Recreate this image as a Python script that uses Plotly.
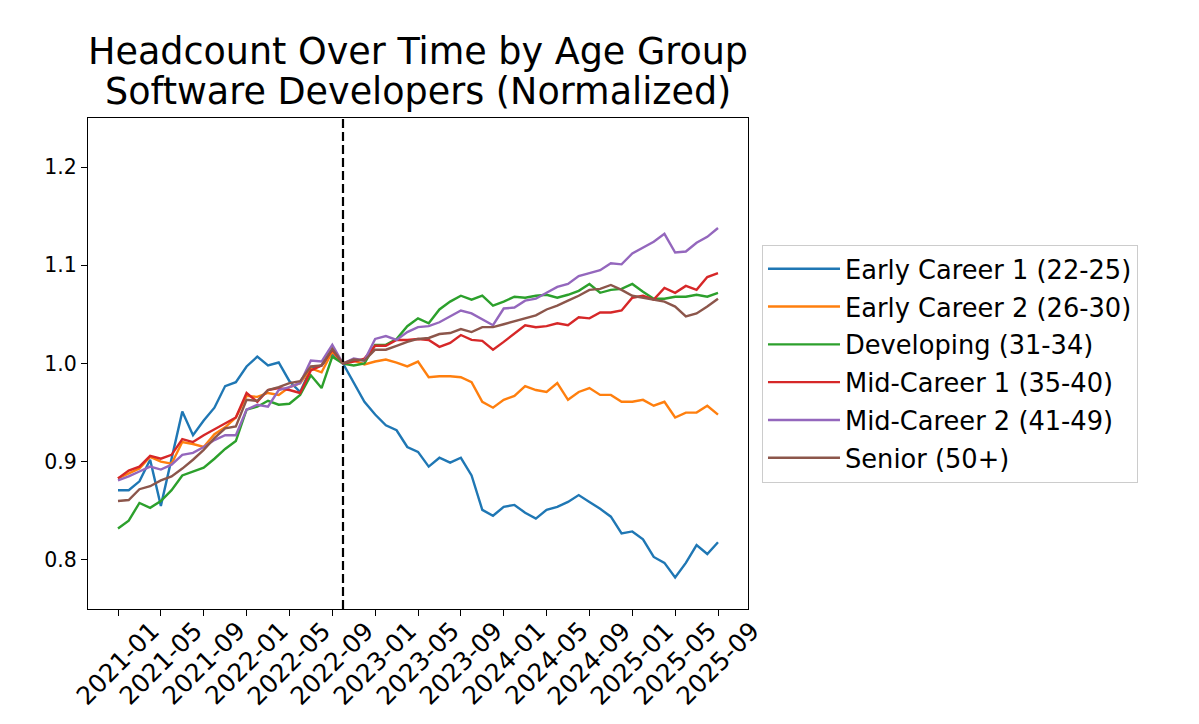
import plotly.graph_objects as go

# monthly labels 2021-01 .. 2025-09
months = [f"{y}-{m:02d}" for y in range(2021, 2026) for m in range(1, 13)][:57]
tick_labels = months[::4]
baseline_month = "2022-10"
title_lines = ["Headcount Over Time by Age Group", "Software Developers (Normalized)"]

early_career_1 = [0.871, 0.871, 0.880, 0.902, 0.855, 0.903, 0.951, 0.927, 0.942, 0.955,
                  0.977, 0.981, 0.997, 1.007, 0.998, 1.001, 0.982, 0.971, 0.995, 0.998,
                  1.010, 1.000, 0.980, 0.961, 0.948, 0.937, 0.932, 0.915, 0.910, 0.895,
                  0.904, 0.899, 0.904, 0.886, 0.851, 0.845, 0.854, 0.856, 0.848, 0.842,
                  0.851, 0.854, 0.859, 0.866, 0.859, 0.852, 0.844, 0.827, 0.829, 0.821,
                  0.803, 0.797, 0.782, 0.797, 0.815, 0.806, 0.818]
early_career_2 = [0.883, 0.888, 0.893, 0.905, 0.900, 0.898, 0.920, 0.918, 0.915, 0.928,
                  0.935, 0.945, 0.967, 0.966, 0.970, 0.968, 0.976, 0.980, 0.995, 0.991,
                  1.012, 1.000, 1.003, 0.999, 1.002, 1.004, 1.001, 0.997, 1.002, 0.986,
                  0.987, 0.987, 0.986, 0.981, 0.961, 0.955, 0.963, 0.967, 0.977, 0.973,
                  0.971, 0.980, 0.963, 0.971, 0.975, 0.968, 0.968, 0.961, 0.961, 0.963,
                  0.957, 0.961, 0.945, 0.950, 0.950, 0.957, 0.948]
developing = [0.832, 0.840, 0.858, 0.853, 0.860, 0.871, 0.886, 0.890, 0.894, 0.903,
              0.913, 0.921, 0.953, 0.956, 0.962, 0.958, 0.959, 0.968, 0.988, 0.975,
              1.007, 1.000, 0.998, 1.000, 1.019, 1.019, 1.025, 1.038, 1.046, 1.041,
              1.055, 1.063, 1.069, 1.065, 1.069, 1.059, 1.063, 1.068, 1.067, 1.069,
              1.070, 1.067, 1.070, 1.074, 1.081, 1.072, 1.075, 1.076, 1.081, 1.073,
              1.066, 1.066, 1.068, 1.068, 1.070, 1.068, 1.072]
mid_career_1 = [0.883, 0.891, 0.895, 0.906, 0.903, 0.907, 0.923, 0.920, 0.927, 0.933,
                0.939, 0.945, 0.970, 0.961, 0.973, 0.975, 0.973, 0.970, 0.993, 0.998,
                1.014, 1.000, 1.002, 1.005, 1.018, 1.018, 1.024, 1.024, 1.025, 1.024,
                1.017, 1.021, 1.029, 1.024, 1.023, 1.014, 1.022, 1.031, 1.039, 1.037,
                1.038, 1.041, 1.039, 1.047, 1.046, 1.052, 1.052, 1.054, 1.067, 1.069,
                1.065, 1.077, 1.072, 1.079, 1.075, 1.088, 1.092]
mid_career_2 = [0.881, 0.885, 0.890, 0.895, 0.892, 0.897, 0.907, 0.909, 0.915, 0.922,
                0.927, 0.927, 0.953, 0.958, 0.956, 0.973, 0.976, 0.980, 1.003, 1.002,
                1.019, 1.000, 1.005, 1.003, 1.025, 1.028, 1.024, 1.032, 1.037, 1.038,
                1.042, 1.048, 1.054, 1.051, 1.045, 1.039, 1.056, 1.057, 1.064, 1.066,
                1.072, 1.078, 1.081, 1.089, 1.092, 1.095, 1.102, 1.101, 1.112, 1.118,
                1.124, 1.132, 1.113, 1.114, 1.123, 1.129, 1.138]
senior = [0.860, 0.861, 0.872, 0.875, 0.881, 0.885, 0.893, 0.902, 0.912, 0.924,
          0.934, 0.936, 0.963, 0.962, 0.973, 0.976, 0.980, 0.982, 0.997, 0.998,
          1.015, 1.000, 1.004, 1.003, 1.014, 1.014, 1.018, 1.022, 1.025, 1.026,
          1.030, 1.031, 1.035, 1.032, 1.037, 1.037, 1.040, 1.043, 1.046, 1.049,
          1.055, 1.059, 1.064, 1.069, 1.075, 1.076, 1.080, 1.075, 1.069, 1.067,
          1.065, 1.063, 1.058, 1.048, 1.051, 1.058, 1.066]

series = [
    ("Early Career 1 (22-25)", early_career_1, "#1f77b4"),
    ("Early Career 2 (26-30)", early_career_2, "#ff7f0e"),
    ("Developing (31-34)", developing, "#2ca02c"),
    ("Mid-Career 1 (35-40)", mid_career_1, "#d62728"),
    ("Mid-Career 2 (41-49)", mid_career_2, "#9467bd"),
    ("Senior (50+)", senior, "#8c564b"),
]

FONT = "DejaVu Sans"

fig = go.Figure()
for name, vals, color in series:
    fig.add_trace(go.Scatter(x=months, y=vals, name=name, mode="lines", legendgroup=name,
                             line=dict(color=color, width=2.4)))

# baseline marker
fig.add_shape(type="line", xref="x", yref="paper", x0=baseline_month, x1=baseline_month,
              y0=0, y1=1, line=dict(color="black", width=2.2, dash="9px,4px"))

# rotated x tick labels centred on the ticks (matplotlib style)
for lab in tick_labels:
    fig.add_annotation(x=lab, xref="x", y=0, yref="paper", text=lab, textangle=-45,
                       xanchor="center", yanchor="top", yshift=-5, showarrow=False,
                       font=dict(family=FONT, size=25, color="black"))

# two-line title, tight matplotlib-like line spacing
for line_text, shift in zip(title_lines, [42.5, 2.5]):
    fig.add_annotation(x=0.5, xref="paper", y=1, yref="paper", text=line_text,
                       xanchor="center", yanchor="bottom", yshift=shift, showarrow=False,
                       font=dict(family=FONT, size=36.5, color="black"))

fig.update_layout(
    width=1191, height=716,
    margin=dict(l=80, r=451, t=110, b=115),
    paper_bgcolor="white", plot_bgcolor="white",
    font=dict(family=FONT, color="black"),
    legend=dict(x=1.0212, xanchor="left", y=0.5, yanchor="middle",
                bordercolor="#cccccc", borderwidth=1, bgcolor="white",
                traceorder="grouped", tracegroupgap=1.4,
                font=dict(family=FONT, size=25.7, color="black"), itemwidth=72),
    showlegend=True,
)
fig.update_xaxes(type="category", range=[-2.8, 58.8], tickvals=tick_labels,
                 showticklabels=False, ticks="outside", ticklen=6, tickwidth=1.2,
                 tickcolor="black", showline=True, linecolor="black", linewidth=1.2,
                 mirror=True, showgrid=False, zeroline=False)
fig.update_yaxes(range=[0.75, 1.25], tickvals=[0.8, 0.9, 1.0, 1.1, 1.2], tickformat=".1f",
                 ticks="outside", ticklen=6, tickwidth=1.2, tickcolor="black",
                 tickfont=dict(family=FONT, size=20.5, color="black"),
                 showline=True, linecolor="black", linewidth=1.2, mirror=True,
                 showgrid=False, zeroline=False)

fig.write_html("out.html")
